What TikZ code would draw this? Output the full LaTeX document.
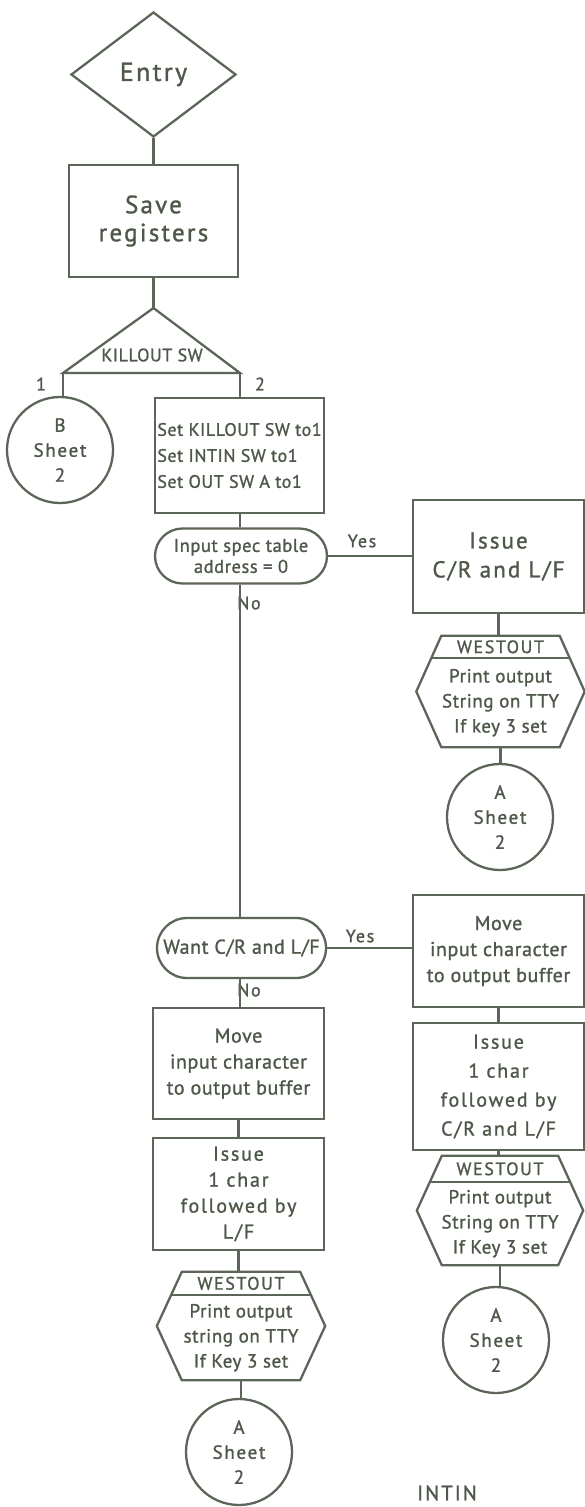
\documentclass[tikz,border=0pt]{standalone}
\usepackage{fontspec}
\setmainfont{PT Sans}
\newfontfamily\hand[LetterSpace=9,FakeBold=1.2]{PT Sans}
\newfontfamily\handtight[LetterSpace=3,FakeBold=1.2]{PT Sans}
\usetikzlibrary{shapes.geometric,shapes.misc,calc}
\definecolor{ink}{RGB}{78,88,74}
\definecolor{pen}{RGB}{92,102,88}

\tikzset{
  ln/.style={draw=pen, line width=2.3pt},
  txt/.style={text=ink, align=center, inner sep=0pt, font=\hand\fontsize{17}{21}\selectfont},
  procbox/.style={ln, txt, rectangle},
  termbox/.style={ln, txt, rounded rectangle},
  connbox/.style={ln, txt, circle, minimum size=106pt, font=\hand\fontsize{19}{25}\selectfont},
  decbox/.style={ln, txt, diamond, aspect=1.3},
  hexfit/.style={rectangle, inner sep=0pt, draw=none},
  lab/.style={txt, font=\hand\fontsize{18}{20}\selectfont},
}

% WESTOUT hexagon: name, x, y, width, height, depth of the title strip, body text
\newcommand{\westoutbox}[7]{%
  \node[hexfit, minimum width=#4pt, minimum height=#5pt] (#1) at (#2,#3) {};
  \pgfmathsetmacro\hexfrac{1-#6/(#5/2)}%
  \pgfmathsetmacro\hexhalf{#6/2}%
  \pgfmathsetmacro\hexbody{(#5-#6)/2}%
  \draw[ln, line join=miter] (#1.west) -- ([xshift=25pt]#1.north west) -- ([xshift=-25pt]#1.north east)
    -- (#1.east) -- ([xshift=-25pt]#1.south east) -- ([xshift=25pt]#1.south west) -- cycle;
  \draw[ln] ($(#1.west)!\hexfrac!([xshift=25pt]#1.north west)$) -- ($(#1.east)!\hexfrac!([xshift=-25pt]#1.north east)$);
  \node[txt, font=\hand\fontsize{18}{20}\selectfont] (#1-title) at ([yshift=-\hexhalf pt]#1.north) {WESTOUT};
  \node[txt, font=\handtight\fontsize{19}{25}\selectfont] (#1-body) at ([yshift=\hexbody pt]#1.south) {#7};
}

\begin{document}
\begin{tikzpicture}[x=1pt,y=-1pt]
\useasboundingbox (0,0) rectangle (585,1507);

% entry and register save
\node[decbox, minimum width=165pt, minimum height=125pt, font=\hand\fontsize{26}{28}\selectfont] (entry) at (153.5,74.5) {Entry};
\node[procbox, minimum width=169pt, minimum height=112pt, font=\hand\fontsize{25}{28}\selectfont] (save) at (153.5,221) {Save\\registers};

% KILLOUT SW test
\coordinate (kt) at (153.5,308);
\coordinate (kl) at (63,373);
\coordinate (kr) at (240,373);
\draw[ln, line join=miter] (kt) -- (kl) -- (kr) -- cycle;
\node[txt, font=\handtight\fontsize{18}{19}\selectfont] (kname) at (152,355) {KILLOUT SW};
\node[lab] (one) at (41,384) {1};
\node[lab] (two) at (260,384) {2};

\node[connbox] (cb) at (60,450) {B\\Sheet\\2};
\node[procbox, minimum width=169pt, minimum height=115pt, align=left, font=\handtight\fontsize{18}{26}\selectfont] (setb) at (239.5,455.5)
  {Set KILLOUT SW to1\\Set INTIN SW to1\\Set OUT SW A to1};

% input spec table test
\node[termbox, minimum width=172pt, minimum height=55pt, font=\handtight\fontsize{18.5}{21}\selectfont] (spec) at (241,556)
  {Input spec table\\address = 0};
\node[lab] (yes1) at (362,541) {Yes};
\node[lab] (no1) at (249,603) {No};

\node[procbox, minimum width=171pt, minimum height=113pt, font=\hand\fontsize{23}{29}\selectfont] (iss1) at (498.5,556.5)
  {Issue\\C/R and L/F};
\westoutbox{h1}{500.5}{691.5}{168}{111}{22}{Print output\\String on TTY\\If key 3 set}
\node[connbox] (a1) at (500,817) {A\\Sheet\\2};

% C/R and L/F test
\node[termbox, minimum width=169pt, minimum height=60pt, font=\handtight\fontsize{20}{22}\selectfont] (want) at (241.5,948)
  {Want C/R and L/F};
\node[lab] (yes2) at (360,936) {Yes};
\node[lab] (no2) at (249,990) {No};

% yes branch
\node[procbox, minimum width=171pt, minimum height=112pt, font=\handtight\fontsize{20}{26}\selectfont] (mvr) at (498.5,951)
  {Move\\input character\\to output buffer};
\node[procbox, minimum width=171pt, minimum height=127pt, font=\hand\fontsize{20}{29}\selectfont] (iss2) at (498.5,1086.5)
  {Issue\\1 char\\followed by\\C/R and L/F};
\westoutbox{h2}{500}{1210.5}{166}{109}{26}{Print output\\String on TTY\\If Key 3 set}
\node[connbox] (a2) at (496,1340) {A\\Sheet\\2};

% no branch
\node[procbox, minimum width=171pt, minimum height=111pt, font=\handtight\fontsize{20}{26}\selectfont] (mvl) at (238.5,1063.5)
  {Move\\input character\\to output buffer};
\node[procbox, minimum width=171pt, minimum height=112pt, font=\hand\fontsize{20}{26}\selectfont] (iss3) at (238.5,1194)
  {Issue\\1 char\\followed by\\L/F};
\westoutbox{h3}{241}{1326}{168}{108}{23}{Print output\\string on TTY\\If Key 3 set}
\node[connbox] (a3) at (239,1452) {A\\Sheet\\2};

\node[txt, font=\hand\fontsize{21}{23}\selectfont] (title) at (447,1493) {INTIN};

% connectors
\draw[ln] (entry.south) -- (save.north);
\draw[ln] (save.south) -- (kt);
\draw[ln] (kl) -- (kl |- cb.north);
\draw[ln] (kr) -- (kr |- setb.north);
\draw[ln] (setb.south -| kr) -- (spec.north -| kr);
\draw[ln] (spec.east) -- (spec.east -| iss1.west);
\draw[ln] (iss1.south) -- (iss1.south |- h1.north);
\draw[ln] (h1.south) -- (h1.south |- a1.north);
\draw[ln] (spec.south -| kr) -- (want.north -| kr);
\draw[ln] (want.east) -- (want.east -| mvr.west);
\draw[ln] (mvr.south) -- (iss2.north);
\draw[ln] (iss2.south) -- (iss2.south |- h2.north);
\draw[ln] (h2.south) -- (h2.south |- a2.north);
\draw[ln] (want.south -| kr) -- (mvl.north -| kr);
\draw[ln] (mvl.south) -- (iss3.north);
\draw[ln] (iss3.south) -- (iss3.south |- h3.north);
\draw[ln] (h3.south) -- (h3.south |- a3.north);
\end{tikzpicture}
\end{document}
